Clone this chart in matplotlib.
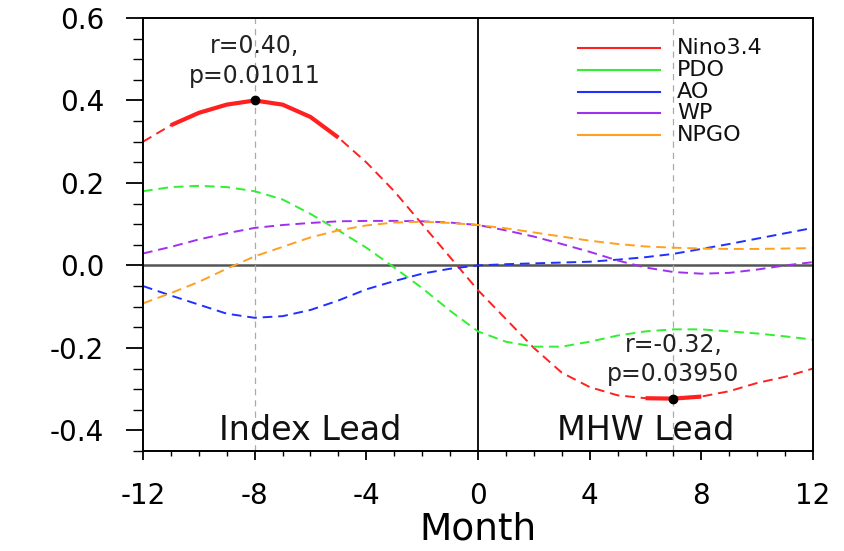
import numpy as np
import matplotlib
matplotlib.use("Agg")
import matplotlib.pyplot as plt
from matplotlib.ticker import MultipleLocator

plt.rcParams['font.family'] = ['DejaVu Sans']
plt.rcParams['axes.unicode_minus'] = False

# lag in months (negative = index leads, positive = MHW leads)
months = np.arange(-12, 13)

nino34 = [0.30, 0.34, 0.37, 0.39, 0.40, 0.39, 0.36, 0.31, 0.25, 0.18, 0.10, 0.02, -0.06,
          -0.13, -0.20, -0.26, -0.295, -0.315, -0.322, -0.323, -0.318, -0.305, -0.285, -0.27, -0.25]
pdo = [0.18, 0.19, 0.193, 0.19, 0.18, 0.16, 0.125, 0.085, 0.043, -0.005, -0.055, -0.11, -0.16,
       -0.185, -0.197, -0.197, -0.185, -0.17, -0.16, -0.155, -0.155, -0.16, -0.165, -0.172, -0.18]
ao = [-0.05, -0.073, -0.095, -0.117, -0.127, -0.123, -0.108, -0.085, -0.058, -0.038, -0.02, -0.008, 0.0,
      0.003, 0.005, 0.007, 0.009, 0.014, 0.02, 0.028, 0.04, 0.052, 0.065, 0.078, 0.091]
wp = [0.029, 0.045, 0.063, 0.078, 0.091, 0.098, 0.103, 0.107, 0.108, 0.108, 0.107, 0.104, 0.098,
      0.085, 0.07, 0.052, 0.033, 0.012, -0.005, -0.016, -0.02, -0.018, -0.01, 0.0, 0.008]
npgo = [-0.092, -0.067, -0.04, -0.008, 0.022, 0.045, 0.068, 0.085, 0.097, 0.104, 0.106, 0.103, 0.098,
        0.09, 0.08, 0.07, 0.06, 0.052, 0.046, 0.043, 0.041, 0.04, 0.04, 0.041, 0.042]

names = ["Nino3.4", "PDO", "AO", "WP", "NPGO"]
colors = ["#ff2020", "#30f030", "#2030ff", "#a030f0", "#ffa020"]
series = [nino34, pdo, ao, wp, npgo]

# significant stretches of Nino3.4 (drawn solid)
sig_ranges = [(-11, -5), (6, 8)]
# marked extremes
peak_months = [-8, 7]
peak_text = ["r=0.40,\np=0.01011", "r=-0.32,\np=0.03950"]

fig = plt.figure(figsize=(8.44, 5.51), dpi=100)
ax = fig.add_axes([0.1694, 0.1815, 0.7939, 0.7858])

ax.axhline(0, color="#555555", lw=1.8, zorder=1)
ax.axvline(0, color="black", lw=1.3, zorder=1)
for m in peak_months:
    ax.axvline(m, color="#aaaaaa", lw=0.9, ls=(0, (5, 4)), zorder=1)

for vals, c in zip(series, colors):
    ax.plot(months, vals, color=c, lw=1.4, ls=(0, (5, 3)), zorder=2)

nino = np.array(nino34)
for a, b in sig_ranges:
    sel = (months >= a) & (months <= b)
    ax.plot(months[sel], nino[sel], color=colors[0], lw=3, solid_capstyle="butt", zorder=3)

for m, txt in zip(peak_months, peak_text):
    v = nino[months == m][0]
    ax.plot(m, v, "o", color="black", ms=6, zorder=4)
    ty = 0.496 if v > 0 else -0.228
    ax.text(m, ty, txt, ha="center", va="center", fontsize=17, linespacing=1.3,
            color="#222222", zorder=5)

ax.text(-6, -0.40, "Index Lead", ha="center", va="center", fontsize=24, color="#111111")
ax.text(6, -0.40, "MHW Lead", ha="center", va="center", fontsize=24, color="#111111")

# legend drawn as lines and labels in axes coordinates
for i, (n, c) in enumerate(zip(names, colors)):
    yy = 0.93 - i * 0.05
    ax.plot([0.649, 0.772], [yy, yy], color=c, lw=1.5, transform=ax.transAxes, zorder=5)
    ax.text(0.797, yy, n, transform=ax.transAxes, ha="left", va="center", fontsize=16,
            color="#111111")

ax.set_xlim(-12, 12)
ax.set_ylim(-0.45, 0.6)
ax.set_xticks([-12, -8, -4, 0, 4, 8, 12])
ax.set_yticks([-0.4, -0.2, 0.0, 0.2, 0.4, 0.6])
ax.set_yticklabels(["-0.4", "-0.2", "0.0", "0.2", "0.4", "0.6"])
ax.xaxis.set_minor_locator(MultipleLocator(1))
ax.yaxis.set_minor_locator(MultipleLocator(0.05))
ax.tick_params(axis="x", which="major", direction="out", length=6.5, width=1.3, labelsize=20, pad=16)
ax.tick_params(axis="x", which="minor", direction="out", length=3.5, width=1.0)
ax.tick_params(axis="y", which="major", direction="out", length=12, width=1.3, labelsize=20, pad=16)
ax.tick_params(axis="y", which="minor", direction="out", length=7, width=1.0)
ax.tick_params(top=False, right=False)
for s in ax.spines.values():
    s.set_linewidth(1.4)

ax.set_xlabel("Month", fontsize=27, labelpad=1)

fig.savefig("out.png", dpi=100)
